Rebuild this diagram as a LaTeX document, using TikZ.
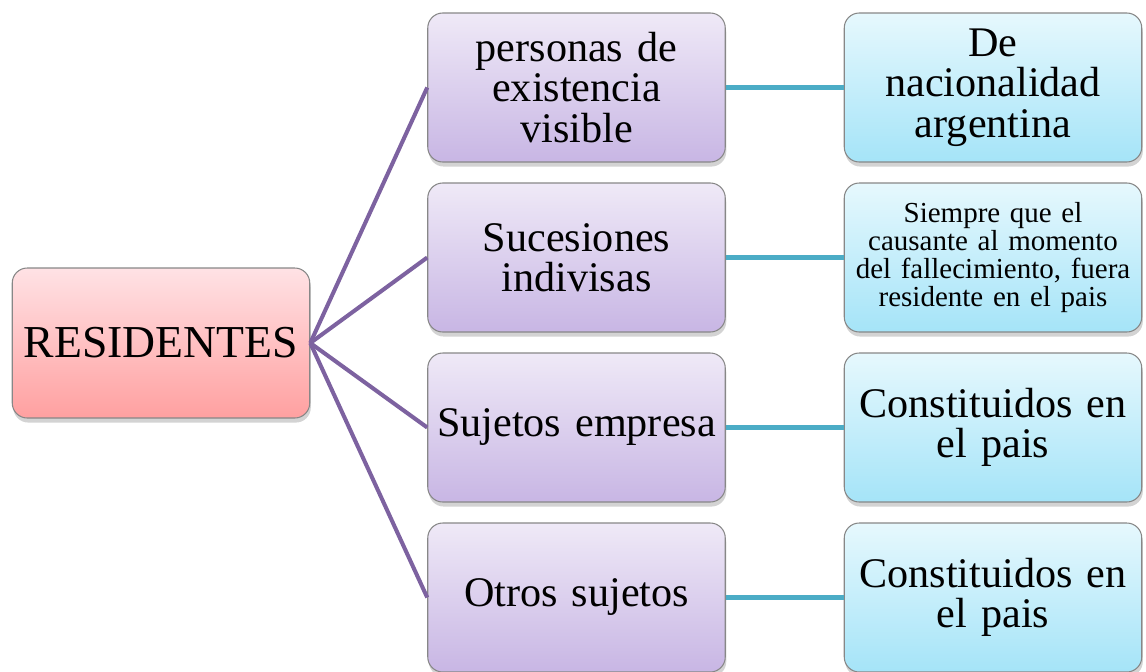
\documentclass[tikz,border=0pt]{standalone}
\usepackage{fontspec}
\setmainfont[WordSpace=0.8]{Liberation Serif}
\usepackage{tikz}
\usetikzlibrary{shapes,arrows,positioning,calc,shadows}
\usepackage{xcolor}
\definecolor{roottop}{RGB}{255,226,229}
\definecolor{rootbot}{RGB}{255,160,160}
\definecolor{midtop}{RGB}{239,233,247}
\definecolor{midbot}{RGB}{200,182,228}
\definecolor{leaftop}{RGB}{230,248,253}
\definecolor{leafbot}{RGB}{165,228,248}
\definecolor{boxline}{RGB}{135,135,135}
\definecolor{purpleline}{RGB}{125,98,160}
\definecolor{cyanline}{RGB}{75,172,198}

\tikzset{
  basebox/.style={draw=boxline,line width=0.6pt,rounded corners=0.3cm,
    minimum width=5.95cm,minimum height=2.98cm,align=center,inner sep=2pt,
    drop shadow={shadow xshift=0.6pt,shadow yshift=-2.6pt,opacity=0.35}},
  rootbox/.style={basebox,top color=roottop,bottom color=rootbot,minimum height=3.0cm},
  midbox/.style={basebox,top color=midtop,bottom color=midbot,text width=5.7cm,
    font=\fontsize{24}{23}\selectfont},
  leafbox/.style={basebox,top color=leaftop,bottom color=leafbot,text width=5.7cm,
    font=\fontsize{24}{23}\selectfont},
  rootlink/.style={purpleline,line width=2.3pt},
  leaflink/.style={cyanline,line width=2.3pt}
}

\begin{document}
\begin{tikzpicture}
    \useasboundingbox (0,0) rectangle (22.92,-13.42);
    % root
    \node[rootbox,font=\fontsize{26}{28}\selectfont] (res) at (3.22,-6.86) {RESIDENTES};
    % middle column
    \node[midbox] (pev) at (11.53,-1.75) {personas de\\existencia\\visible};
    \node[midbox] (suc) at (11.53,-5.15) {Sucesiones\\indivisas};
    \node[midbox] (emp) at (11.53,-8.55) {Sujetos empresa};
    \node[midbox] (otr) at (11.53,-11.95) {Otros sujetos};
    % right column
    \node[leafbox] (nac) at (19.86,-1.75) {De\\nacionalidad\\argentina};
    \node[leafbox,font=\fontsize{16.5}{16}\selectfont] (cau) at (19.86,-5.15)
        {Siempre que el\\causante al momento\\del fallecimiento, fuera\\residente en el pais};
    \node[leafbox] (con1) at (19.86,-8.55) {Constituidos en\\el pais};
    \node[leafbox] (con2) at (19.86,-11.95) {Constituidos en\\el pais};
    % connectors
    \foreach \m in {pev,suc,emp,otr}
        \draw[rootlink] (res.east) -- (\m.west);
    \draw[leaflink] (pev.east) -- (nac.west);
    \draw[leaflink] (suc.east) -- (cau.west);
    \draw[leaflink] (emp.east) -- (con1.west);
    \draw[leaflink] (otr.east) -- (con2.west);
\end{tikzpicture}
\end{document}
